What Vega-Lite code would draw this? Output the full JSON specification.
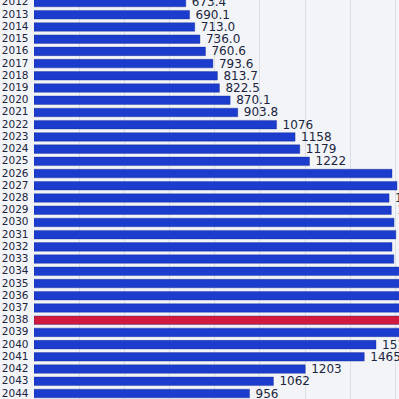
{
  "$schema": "https://vega.github.io/schema/vega-lite/v6.json",
  "autosize": {"type": "none"},
  "padding": {"left": 34, "top": -3, "right": 0, "bottom": 0},
  "width": 365,
  "height": 402,
  "background": "#f2f4f7",
  "config": {"view": {"stroke": null}, "font": "DejaVu Sans"},
  "data": {
    "values": [
      {"year": "2012", "value": 673.4, "label": "673.4", "hl": "n"},
      {"year": "2013", "value": 690.1, "label": "690.1", "hl": "n"},
      {"year": "2014", "value": 713.0, "label": "713.0", "hl": "n"},
      {"year": "2015", "value": 736.0, "label": "736.0", "hl": "n"},
      {"year": "2016", "value": 760.6, "label": "760.6", "hl": "n"},
      {"year": "2017", "value": 793.6, "label": "793.6", "hl": "n"},
      {"year": "2018", "value": 813.7, "label": "813.7", "hl": "n"},
      {"year": "2019", "value": 822.5, "label": "822.5", "hl": "n"},
      {"year": "2020", "value": 870.1, "label": "870.1", "hl": "n"},
      {"year": "2021", "value": 903.8, "label": "903.8", "hl": "n"},
      {"year": "2022", "value": 1076, "label": "1076", "hl": "n"},
      {"year": "2023", "value": 1158, "label": "1158", "hl": "n"},
      {"year": "2024", "value": 1179, "label": "1179", "hl": "n"},
      {"year": "2025", "value": 1222, "label": "1222", "hl": "n"},
      {"year": "2026", "value": 1588, "label": "1588", "hl": "n"},
      {"year": "2027", "value": 1610, "label": "1610", "hl": "n"},
      {"year": "2028", "value": 1575, "label": "1575", "hl": "n"},
      {"year": "2029", "value": 1585, "label": "1585", "hl": "n"},
      {"year": "2030", "value": 1597, "label": "1597", "hl": "n"},
      {"year": "2031", "value": 1605, "label": "1605", "hl": "n"},
      {"year": "2032", "value": 1588, "label": "1588", "hl": "n"},
      {"year": "2033", "value": 1596, "label": "1596", "hl": "n"},
      {"year": "2034", "value": 1630, "label": "1630", "hl": "n"},
      {"year": "2035", "value": 1650, "label": "1650", "hl": "n"},
      {"year": "2036", "value": 1670, "label": "1670", "hl": "n"},
      {"year": "2037", "value": 1690, "label": "1690", "hl": "n"},
      {"year": "2038", "value": 1720, "label": "1720", "hl": "y"},
      {"year": "2039", "value": 1680, "label": "1680", "hl": "n"},
      {"year": "2040", "value": 1517, "label": "1517", "hl": "n"},
      {"year": "2041", "value": 1465, "label": "1465", "hl": "n"},
      {"year": "2042", "value": 1203, "label": "1203", "hl": "n"},
      {"year": "2043", "value": 1062, "label": "1062", "hl": "n"},
      {"year": "2044", "value": 956, "label": "956", "hl": "n"}
    ]
  },
  "encoding": {
    "y": {
      "field": "year", "type": "ordinal", "sort": null, "title": null,
      "scale": {"paddingInner": 0.3, "paddingOuter": 0.1},
      "axis": {"domain": false, "ticks": false, "labelPadding": 6, "labelFontSize": 10.5, "labelColor": "#1b2540", "labelFont": "DejaVu Sans"}
    },
    "x": {
      "field": "value", "type": "quantitative", "title": null,
      "scale": {"domain": [0, 1619], "nice": false, "zero": true},
      "axis": {"labels": false, "ticks": false, "domain": false, "grid": true, "values": [200, 400, 600, 800, 1000, 1200, 1400, 1600], "gridColor": "#dcdfe4", "gridWidth": 1}
    }
  },
  "layer": [
    {
      "mark": {"type": "bar", "clip": true, "stroke": "#15288f", "strokeWidth": 0.6, "strokeOpacity": 0.6},
      "encoding": {
        "color": {
          "field": "hl", "type": "nominal", "legend": null,
          "scale": {"domain": ["n", "y"], "range": ["#1b3ccc", "#d11a3e"]}
        }
      }
    },
    {
      "transform": [{"filter": "datum.value <= 1585"}],
      "mark": {"type": "text", "align": "left", "baseline": "middle", "dx": 6, "fontSize": 12, "color": "#1b2540", "font": "DejaVu Sans", "clip": true},
      "encoding": {"text": {"field": "label"}}
    }
  ]
}
